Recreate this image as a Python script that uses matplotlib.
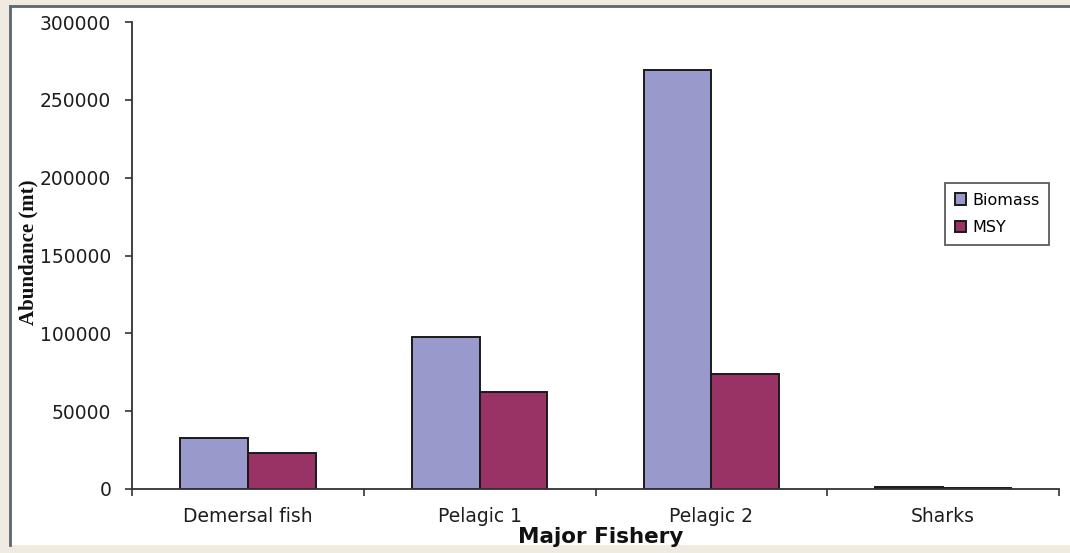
import matplotlib
matplotlib.use("Agg")
import matplotlib.pyplot as plt
from matplotlib.patches import Rectangle
from matplotlib.lines import Line2D
import numpy as np

categories = ['Demersal fish', 'Pelagic 1', 'Pelagic 2', 'Sharks']
biomass = [33000, 97500, 269000, 1500]
msy = [23000, 62500, 74000, 600]
yticks = [0, 50000, 100000, 150000, 200000, 250000, 300000]

W, H = 1070, 553
fig = plt.figure(figsize=(W / 100, H / 100), dpi=100)
fig.patch.set_facecolor('#EFEBE0')
fig.patches.append(Rectangle((10 / W, 8 / H), 1 - 10 / W, 1 - 14 / H,
                             transform=fig.transFigure, facecolor='white',
                             edgecolor='none', zorder=-10))
fig.lines.append(Line2D([10 / W, 10 / W], [8 / H, 1 - 6 / H], transform=fig.transFigure,
                        color='#5B6670', lw=2))
fig.lines.append(Line2D([10 / W, 1], [1 - 6 / H, 1 - 6 / H], transform=fig.transFigure,
                        color='#5B6670', lw=2))

ax = fig.add_axes([132 / W, (H - 489) / H, (1059 - 132) / W, (489 - 22) / H])
ax.set_facecolor('none')

x = np.arange(len(categories))
w = 0.292
ax.bar(x - w / 2, biomass, w, color='#9999CC', edgecolor='#1a1a1a', lw=1.4, label='Biomass')
ax.bar(x + w / 2, msy, w, color='#993366', edgecolor='#1a1a1a', lw=1.4, label='MSY')

ax.set_xlim(-0.5, 3.5)
ax.set_ylim(0, 300000)
for s in ['top', 'right']:
    ax.spines[s].set_visible(False)
for s in ['left', 'bottom']:
    ax.spines[s].set_color('#333333')
    ax.spines[s].set_linewidth(1.3)

font = 'DejaVu Sans'
ax.set_yticks(yticks)
ax.set_yticklabels([str(v) for v in yticks], fontsize=13.5, family=font, color='#1e1e1e')
ax.tick_params(axis='y', length=5, width=1.2, pad=10, color='#333333')

ax.set_xticks(x)
ax.set_xticklabels(categories, fontsize=13.5, family=font, color='#1e1e1e')
ax.set_xticks(np.arange(-0.5, 4.0, 1.0), minor=True)
ax.tick_params(axis='x', which='major', length=0, pad=13)
ax.tick_params(axis='x', which='minor', length=5, width=1.2, color='#333333')

fig.text(601 / W, 1 - 537 / H, 'Major Fishery', ha='center', va='center',
         fontsize=15.5, fontweight='bold', family=font, color='#111111')
fig.text(28 / W, 1 - 252 / H, 'Abundance (mt)', ha='center', va='center', rotation=90,
         fontsize=15, fontweight='bold', family='Liberation Serif', color='#111111')

leg = ax.legend(loc='upper left', bbox_to_anchor=((945 - 132) / (1059 - 132), (489 - 183) / (489 - 22)),
                frameon=True, fancybox=False, prop={'family': font, 'size': 11.5},
                handlelength=0.7, handleheight=0.7, handletextpad=0.4, borderpad=0.6,
                labelspacing=0.8, borderaxespad=0)
leg.get_frame().set_edgecolor('#333333')
leg.get_frame().set_linewidth(1.3)

fig.savefig('out.png', dpi=100, facecolor=fig.get_facecolor())
